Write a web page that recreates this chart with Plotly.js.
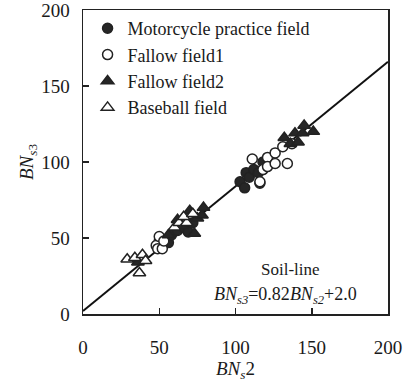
<!DOCTYPE html>
<html><head><meta charset="utf-8">
<script src="https://cdn.plot.ly/plotly-3.0.1.min.js"></script>
<style>html,body{margin:0;padding:0;background:#fff;}#chart{width:403px;height:385px;}</style>
</head><body><div id="chart"></div>
<script>
const motoX = [50, 56, 58, 62, 66, 69, 72, 103, 106, 107, 109, 112, 115, 116, 118];
const motoY = [48, 47, 52, 55, 57, 54, 60, 87, 83, 93, 90, 95, 93, 86, 100];
const fallow1X = [48, 49, 50, 52, 53, 111, 116, 118, 121, 121, 126, 126, 131, 134, 137];
const fallow1Y = [45, 43, 51, 43, 48, 102, 87, 95, 103, 97, 106, 99, 110, 99, 112];
const fallow2X = [36, 56, 62, 65, 70, 73, 75, 78, 79, 132, 136, 139, 141, 144, 145, 151];
const fallow2Y = [34, 52, 62, 58, 68, 53, 63, 65, 70, 116, 112, 119, 113, 119, 124, 120];
const baseX = [29, 34, 37, 39, 41, 60, 63, 68, 66, 72];
const baseY = [36, 37, 27, 39, 35, 57, 60, 60, 64, 66];
const lineSlope = 0.82, lineIntercept = 2.0;
const lineX = [0, 200];
const lineY = lineX.map(v => lineSlope * v + lineIntercept);
const tickVals = [0, 50, 100, 150, 200];

const FAM = 'Liberation Serif';
const f = (size) => ({family: FAM, size: size, color: '#1a1a1a'});
const data = [
  {x: lineX, y: lineY, mode: 'lines', line: {color: '#111', width: 2}, showlegend: false, hoverinfo: 'skip'},
  {x: motoX, y: motoY, mode: 'markers', name: 'Motorcycle practice field',
   marker: {symbol: 'circle', size: 10, color: '#262626', line: {color: '#222', width: 1.5}}},
  {x: fallow1X, y: fallow1Y, mode: 'markers', name: 'Fallow field1',
   marker: {symbol: 'circle', size: 10, color: '#fff', line: {color: '#222', width: 1.5}}},
  {x: fallow2X, y: fallow2Y, mode: 'markers', name: 'Fallow field2',
   marker: {symbol: 'triangle-up', size: 11, color: '#262626', line: {color: '#222', width: 1.5}}},
  {x: baseX, y: baseY, mode: 'markers', name: 'Baseball field',
   marker: {symbol: 'triangle-up', size: 11, color: '#fff', line: {color: '#222', width: 1.5}}}
];

const axisBase = {
  range: [0, 200], tickvals: tickVals, ticks: 'inside', ticklen: 6, tickwidth: 1.5, tickcolor: '#222',
  showline: true, linecolor: '#222', linewidth: 1.5, mirror: true, showgrid: false, zeroline: false,
  tickfont: f(19), ticklabeloverflow: 'allow'
};
const layout = {
  width: 403, height: 385,
  margin: {l: 83, r: 15, t: 10, b: 71},
  paper_bgcolor: '#fff', plot_bgcolor: '#fff',
  font: f(17),
  xaxis: Object.assign({}, axisBase, {ticklabelstandoff: 16,
    title: {text: '<i>BN</i><sub><i>s</i></sub>2', font: f(19), standoff: 0}}),
  yaxis: Object.assign({}, axisBase, {ticklabelstandoff: 8,
    title: {text: '<i>BN</i><sub><i>s</i>3</sub>', font: f(19), standoff: 2}}),
  legend: {x: 0.015, y: 1.0, xanchor: 'left', yanchor: 'top', bgcolor: 'rgba(0,0,0,0)',
    font: f(18), itemwidth: 30, tracegroupgap: 0},
  annotations: [
    {x: 136, y: 29, xref: 'x', yref: 'y', text: 'Soil-line', showarrow: false, font: f(17)},
    {x: 133, y: 12, xref: 'x', yref: 'y', text: '<i>BN</i><sub><i>s3</i></sub>=0.82<i>BN</i><sub><i>s2</i></sub>+2.0', showarrow: false, font: f(18)}
  ],
  showlegend: true
};
Plotly.newPlot('chart', data, layout, {displayModeBar: false, staticPlot: true});
</script></body></html>
